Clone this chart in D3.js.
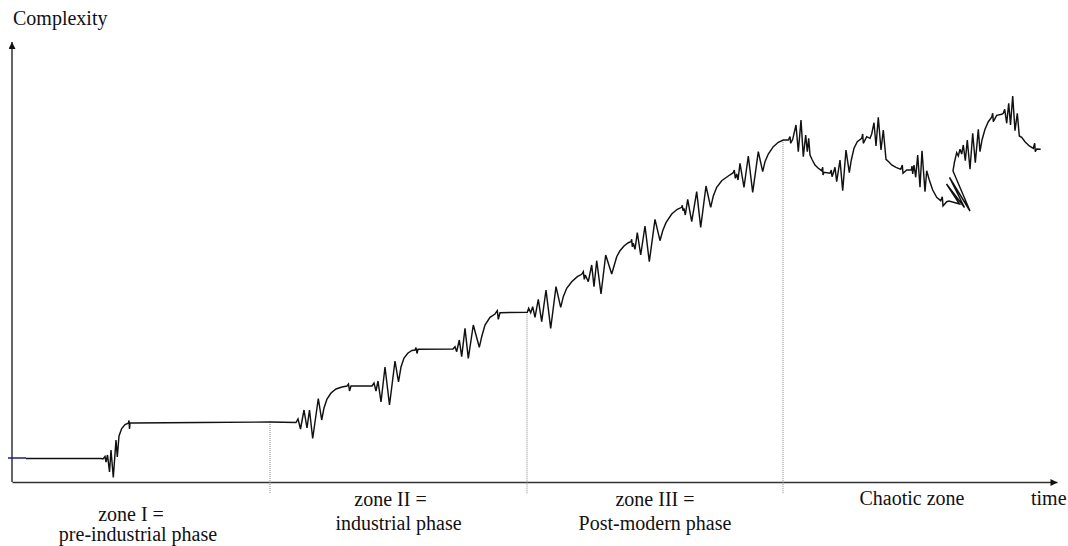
<!DOCTYPE html>
<html>
<head>
<meta charset="utf-8">
<script src="https://cdn.jsdelivr.net/npm/d3@7"></script>
<style>
  body { margin: 0; background: #fff; }
  text { font-family: "Liberation Serif", "Times New Roman", "DejaVu Serif", serif; font-size: 20px; fill: #111; }
</style>
</head>
<body>
<script>
// chart values: [time, complexity]
var startMark = [[-4, 24], [14, 24]];

var zone1Curve = [
  [14, 23.5], [89, 23.5], [91, 23], [93, 25.5], [94, 20], [95.5, 27], [97.5, 10], [99, 32],
  [101.3, 4.5], [104, 42], [105.3, 25], [107, 46], [109.7, 53.5], [113, 57.5], [116.3, 58.7],
  [117, 61.5], [117.5, 53], [118, 59], [121, 59], [188, 59.5], [258, 60]
];

var zone2Curve = [
  [284, 59.5], [286, 63], [288.5, 53], [292, 72], [295, 54], [297.5, 72], [300.7, 43.5],
  [306.3, 83.5], [309.7, 62], [312, 74], [315, 83], [319, 89], [324, 93], [330, 95], [335, 96],
  [336.5, 98], [337.5, 91], [339, 96], [360, 96], [362, 99], [364, 91], [366, 101], [369, 80],
  [373, 115], [377.5, 77], [383, 121], [386.5, 100], [389, 115], [392, 124], [396, 129],
  [400, 131.5], [403, 132], [404, 134.5], [405, 128.5], [406, 132.7], [441, 133], [443, 135.3],
  [444.7, 130.3], [447.3, 142], [449.7, 125.3], [453, 153.7], [456.3, 123.7], [461.3, 157],
  [467.3, 134.7], [469.7, 145.3], [473, 157], [478, 164.7], [483, 168], [485.3, 171.3],
  [486.3, 162.7], [488, 169.3], [515.3, 169.7]
];

var zone3Curve = [
  [516.7, 173.7], [518.7, 169.3], [520.7, 175.3], [523, 164.7], [526.3, 182.7], [529.7, 160.3],
  [534, 192], [538.7, 153.7], [544, 195.3], [548.7, 174.7], [551.3, 185.3], [554.7, 193.7],
  [559.7, 200.3], [565.3, 205.3], [569.7, 207.7], [571.3, 210.3], [572.3, 202.7], [573.3, 207],
  [576.3, 200.3], [579.7, 217], [582, 195.3], [584.7, 221.3], [589, 188], [593.7, 227],
  [599.7, 208], [604.7, 225.3], [608, 231.3], [612, 236], [616.3, 239.3], [619, 240.3],
  [619.7, 242.7], [620.3, 235.3], [621.3, 238.7], [623, 232.7], [625.3, 249.3], [628.7, 227],
  [633, 256], [637.3, 220.3], [643, 262.7], [648, 241.3], [650.7, 251.3], [654, 259.3],
  [659.7, 268], [665.3, 272.7], [669.7, 274.7], [670.3, 276.7], [671, 271.3], [672, 273.7],
  [673.3, 267], [675.7, 282.7], [679.7, 260.3], [684.7, 290.3], [688.7, 254.7], [694, 296],
  [698.7, 274.7], [701.3, 286], [704.7, 294.7], [709.7, 301.3], [716.3, 306], [721.3, 309.3],
  [722.3, 312], [723.3, 303.7], [724.7, 308], [726, 302], [728, 318.7], [732, 294.7],
  [736.3, 326], [740.7, 289.7], [746.3, 330.3], [750.7, 310.3], [753, 320.3], [756.3, 328],
  [761.3, 335.3], [766.3, 339.7], [771.3, 342]
];

var chaoticCurve = [
  [774.7, 342], [776.3, 342], [778, 345.3], [778.7, 338.7], [780.7, 342.7], [784, 357],
  [786.3, 330.3], [789, 362], [791.3, 325.3], [793.7, 347], [795.3, 330.3], [796.7, 343.7],
  [798, 327], [800.3, 322], [803, 317], [806.3, 313.7], [809.7, 311.3], [810.7, 314.7],
  [811, 307], [812, 309.7], [818, 308.7], [819.3, 312], [820, 305.3], [821.3, 308.7],
  [823, 314.7], [824.7, 300.3], [828, 322], [830.7, 291.3], [834, 332], [837.3, 309.3],
  [839.3, 322], [842, 333.7], [845.3, 340.3], [849.7, 343.7], [850.7, 348], [851.3, 338.7],
  [854.7, 345.3], [858, 343.7], [859.7, 348], [862, 359.3], [864, 336], [866.3, 364.7],
  [869, 332], [871.3, 352], [874, 322.7], [876.7, 320.3], [879.7, 317], [884, 314.7],
  [888.7, 312.7], [890.3, 317], [891, 308.7], [894.7, 312], [899.3, 312], [900, 316],
  [900.7, 308], [902, 317], [903.7, 304.7], [905.7, 327], [908, 294.7], [910, 331.3],
  [913, 290.3], [914.7, 311.3], [917.3, 302], [920.7, 292], [924.7, 284.7], [928.7, 281.3],
  [930.3, 285.3], [931, 276], [934.7, 280.3], [937, 281], [947.5, 278], [934.5, 298],
  [952.5, 274.5], [937.5, 304.5], [958, 271], [941, 311], [942.5, 320], [944.7, 329.3],
  [946.3, 326], [948, 332.7], [949.7, 328], [951.3, 337], [953.3, 321.3], [955.3, 342],
  [958, 312.7], [960.7, 348.7], [963.3, 319.3], [966.3, 352.7], [968, 330.3], [970, 342],
  [973, 352.7], [976.3, 360.3], [979.7, 364.7], [980.7, 368.7], [981.3, 360.3], [984.7, 366.7],
  [989.7, 367.7], [991.3, 368.7], [992.7, 372.7], [994.7, 358.7], [996.7, 378.7], [998.5, 357],
  [1000.7, 386], [1003, 351.3], [1005.3, 368.7], [1007.3, 346], [1009.7, 344.7], [1013, 340.3],
  [1017.3, 336], [1021.3, 333.7], [1022.7, 338.7], [1023.3, 330.3], [1024.7, 333],
  [1028.7, 332.7]
];

// zone limits on the time axis
var zoneEdges = [0, 258, 515, 771, 1029];
var zoneLabels = [
  ["zone I =", "pre-industrial phase"],
  ["zone II =", "industrial phase"],
  ["zone III =", "Post-modern phase"],
  ["Chaotic zone"]
];
var yTitle = "Complexity";
var xTitle = "time";

// svg container
var svgWidth = 1068;
var svgHeight = 546;

var svg = d3.select("body").append("svg")
    .attr("width", svgWidth)
    .attr("height", svgHeight);

// scales
var x = d3.scaleLinear().domain([0, 1045]).range([12, 1057]);
var y = d3.scaleLinear().domain([0, 440]).range([482, 42]);

// arrow heads
svg.append("defs").append("marker")
    .attr("id", "arrow")
    .attr("viewBox", "0 0 10 10")
    .attr("refX", 10)
    .attr("refY", 5)
    .attr("markerWidth", 8)
    .attr("markerHeight", 7)
    .attr("markerUnits", "userSpaceOnUse")
    .attr("orient", "auto")
  .append("path")
    .attr("d", "M0,0L10,5L0,10Z")
    .attr("fill", "#111");

// axes without ticks
svg.append("g")
    .attr("transform", `translate(0, ${y(0)})`)
    .call(d3.axisBottom(x).tickValues([]).tickSizeOuter(0));
var yAxis = svg.append("g")
    .attr("transform", `translate(${x(0)}, 0)`)
    .call(d3.axisLeft(y).tickValues([]).tickSizeOuter(0));

// y domain is drawn top -> bottom, redraw it upward so the arrow sits on top
yAxis.select(".domain").attr("d", `M0,${y(0)}V${y(440)}`);

svg.selectAll(".domain")
    .attr("stroke", "#333")
    .attr("stroke-width", 1.5)
    .attr("marker-end", "url(#arrow)");

// curve value at a given time (for the dotted zone lines)
var curve = zone1Curve.concat(zone2Curve, zone3Curve, chaoticCurve);
function valueAt(t) {
  for (var i = 1; i < curve.length; i++) {
    var a = curve[i - 1], b = curve[i];
    if (a[0] <= t && b[0] >= t) {
      return a[1] + (b[1] - a[1]) * (t - a[0]) / (b[0] - a[0]);
    }
  }
  return 0;
}

// dotted zone separators
svg.selectAll(".sep")
    .data(zoneEdges.slice(1, 4))
    .enter()
    .append("line")
    .attr("class", "sep")
    .attr("x1", d => x(d))
    .attr("x2", d => x(d))
    .attr("y1", d => y(valueAt(d)))
    .attr("y2", y(0) + 12)
    .attr("stroke", "#888")
    .attr("stroke-width", 1)
    .attr("stroke-dasharray", "1,1");

// the complexity curve
var line = d3.line()
    .x(d => x(d[0]))
    .y(d => y(d[1]));

svg.append("path")
    .datum(curve)
    .attr("d", line)
    .attr("fill", "none")
    .attr("stroke", "#111")
    .attr("stroke-width", 1.45)
    .attr("stroke-linejoin", "miter")
    .attr("stroke-miterlimit", 3);

svg.append("path")
    .datum(startMark)
    .attr("d", line)
    .attr("fill", "none")
    .attr("stroke", "#1a1a9a")
    .attr("stroke-width", 1.5);

// titles
svg.append("text")
    .attr("x", 13)
    .attr("y", 25)
    .text(yTitle);

svg.append("text")
    .attr("x", 1031)
    .attr("y", 505)
    .text(xTitle);

// zone labels, centred in each zone
var lineY = [[521, 541], [506, 530], [506, 530], [505]];
var lineDx = [[-10, -3], [-8, 0], [0, 0], [0]];
zoneLabels.forEach(function(lines, i) {
  var cx = x((zoneEdges[i] + zoneEdges[i + 1]) / 2);
  lines.forEach(function(s, j) {
    svg.append("text")
        .attr("x", cx + lineDx[i][j])
        .attr("y", lineY[i][j])
        .attr("text-anchor", "middle")
        .text(s);
  });
});
</script>
</body>
</html>
